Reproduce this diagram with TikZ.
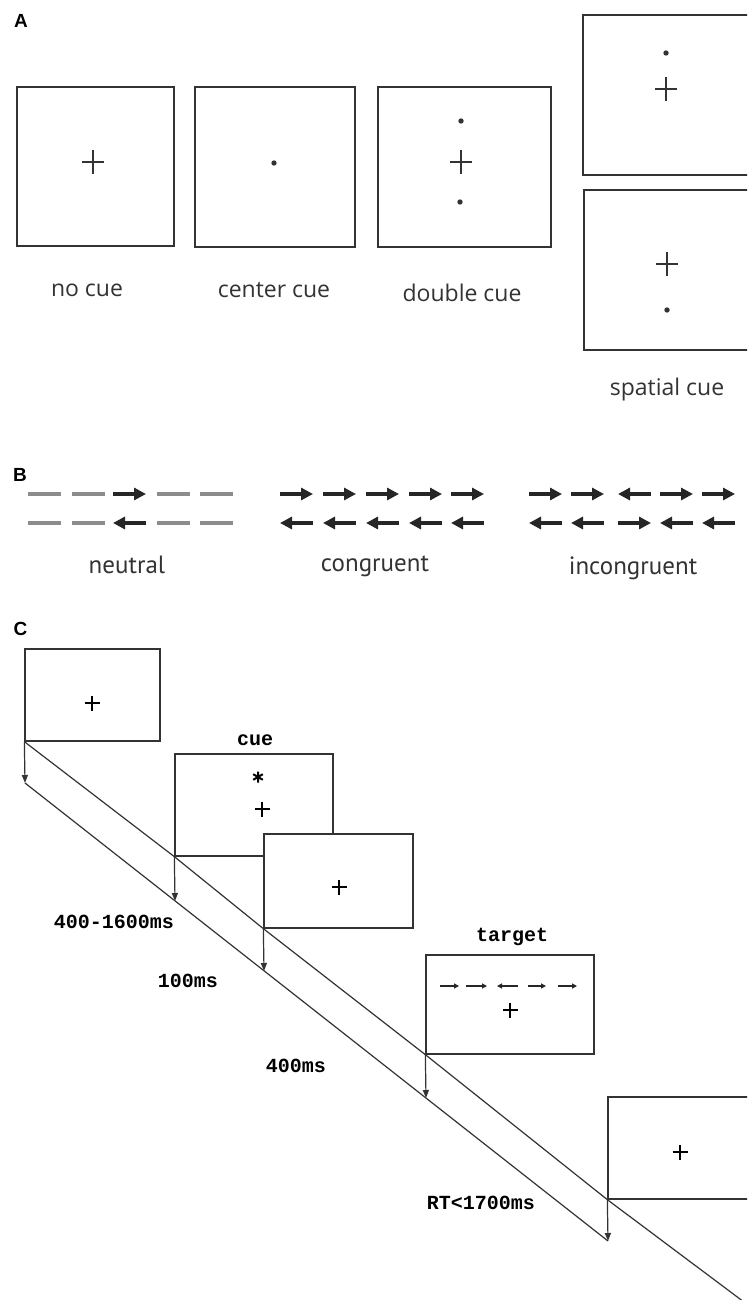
\documentclass[tikz,border=0pt]{standalone}
\usepackage{fontspec}
\setmainfont{Open Sans}
\newfontfamily\condfont{PT Sans}
\newfontfamily\panelfont{Liberation Sans}
\newfontfamily\songfont{Liberation Mono}
\usetikzlibrary{arrows.meta}
\definecolor{ink}{HTML}{333333}
\definecolor{txt}{HTML}{333333}
\definecolor{dashgray}{HTML}{8C8C8C}
\tikzset{
  panel/.style={font=\panelfont\bfseries\fontsize{19}{19}\selectfont, inner sep=0pt},
  screenA/.style={draw=ink, line width=1.6pt, inner sep=0pt, fill=white},
  screenC/.style={draw=ink, line width=1.3pt, inner sep=0pt, fill=white},
  capA/.style={font=\fontsize{23}{23}\selectfont, text=txt, inner sep=0pt},
  capB/.style={font=\condfont\fontsize{25}{25}\selectfont, text=txt, inner sep=0pt},
  capC/.style={font=\songfont\bfseries\fontsize{20}{20}\selectfont, text=black, inner sep=0pt},
  flank/.style={line width=3.2pt, black!85, -{Triangle[length=12pt,width=12pt]}},
  dashbar/.style={line width=3.2pt, dashgray},
  tline/.style={draw=ink, line width=1.2pt},
  tarr/.style={draw=ink, line width=1.2pt, -{Triangle[length=8pt,width=6pt]}},
  smallarr/.style={line width=1.3pt, black!85, -{Triangle[length=5pt,width=5pt]}},
  plusA/.pic={\draw[ink, line width=1.4pt] (-11,0)--(11,0) (0,-12)--(0,12);},
  plusC/.pic={\draw[black, line width=2.2pt] (-7.5,0)--(7.5,0) (0,-7.5)--(0,7.5);},
  dotA/.pic={\fill[ink] (0,0) circle (2.7pt);},
  starC/.pic={\draw[black, line width=2pt] (0,-5.5)--(0,5.5) (-4.8,-2.8)--(4.8,2.8) (-4.8,2.8)--(4.8,-2.8);}
}
\begin{document}
\begin{tikzpicture}[x=1pt,y=-1pt]
\clip (0,0) rectangle (747,1300);
\fill[white] (0,0) rectangle (747,1300);

% ---------- Panel A ----------
\node[panel] (la) at (21,21) {A};
\node[screenA, minimum width=157pt, minimum height=159pt] (a1) at (95.5,166.5) {};
\node[screenA, minimum width=160pt, minimum height=160pt] (a2) at (275,167) {};
\node[screenA, minimum width=173pt, minimum height=160pt] (a3) at (464.5,167) {};
\node[screenA, minimum width=190pt, minimum height=160pt] (s1) at (678,95) {};
\node[screenA, minimum width=190pt, minimum height=160pt] (s2) at (679,270) {};
\pic at (93,162) {plusA};
\pic at (274,163) {dotA};
\pic at (461,121) {dotA};
\pic at (461,162) {plusA};
\pic at (460,202) {dotA};
\pic at (666,53) {dotA};
\pic at (666,89) {plusA};
\pic at (667,264) {plusA};
\pic at (667,310) {dotA};
\node[capA] (t1) at (87,290) {no cue};
\node[capA] (t2) at (274,290) {center cue};
\node[capA] (t3) at (462,293) {double cue};
\node[capA] (t4) at (667,390) {spatial cue};

% ---------- Panel B ----------
\node[panel] (lb) at (20,475) {B};
% neutral
\foreach \x in {28,72,157,200}{
  \draw[dashbar] (\x,494) -- ++(33,0);
  \draw[dashbar] (\x,523) -- ++(33,0);
}
\draw[flank] (113,494) -- ++(33,0);
\draw[flank] (146,523) -- ++(-33,0);
% congruent
\foreach \x in {280,323,366,409,451}{
  \draw[flank] (\x,494) -- ++(33,0);
  \draw[flank] (\x+33,523) -- ++(-33,0);
}
% incongruent
\foreach \x in {529,571,660,702}{
  \draw[flank] (\x,494) -- ++(33,0);
  \draw[flank] (\x+33,523) -- ++(-33,0);
}
\draw[flank] (651,494) -- ++(-33,0);
\draw[flank] (618,523) -- ++(33,0);
\node[capB] (n1) at (127,565) {neutral};
\node[capB] (n2) at (375,566) {congruent};
\node[capB] (n3) at (633,568) {incongruent};

% ---------- Panel C ----------
\node[panel] (lc) at (20.5,629) {C};
\node[screenC, minimum width=135pt, minimum height=92pt] (c1) at (92.5,695) {};
\node[screenC, minimum width=158pt, minimum height=102pt] (c2) at (254,805) {};
\node[screenC, minimum width=149pt, minimum height=94pt] (c3) at (338.5,881) {};
\node[screenC, minimum width=168pt, minimum height=99pt] (c4) at (510,1004.5) {};
\node[screenC, minimum width=170pt, minimum height=102pt] (c5) at (693,1148) {};
\pic at (92,703) {plusC};
\pic at (258,777) {starC};
\pic at (262,809) {plusC};
\pic at (339,887) {plusC};
\pic at (510,1010) {plusC};
\pic at (680,1152) {plusC};
\draw[smallarr] (440,986) -- (459,986);
\draw[smallarr] (466,986) -- (487,986);
\draw[smallarr] (518,986) -- (497,986);
\draw[smallarr] (528,986) -- (546,986);
\draw[smallarr] (558,986) -- (577,986);
\node[capC] (cue) at (255,740) {cue};
\node[capC] (tgt) at (512,937) {target};

\coordinate (l1) at (25,783);
\coordinate (l2) at (175,901);
\coordinate (l3) at (264,971);
\coordinate (l4) at (426,1098);
\coordinate (l5) at (608,1241);
\coordinate (uend) at (752,1308);
\draw[tline] (c1.south west) -- (c2.south west) -- (c3.south west) -- (c4.south west) -- (c5.south west) -- (uend);
\draw[tline] (l1) -- (l5);
\draw[tarr] (c1.south west) -- (l1);
\draw[tarr] (c2.south west) -- (l2);
\draw[tarr] (c3.south west) -- (l3);
\draw[tarr] (c4.south west) -- (l4);
\draw[tarr] (c5.south west) -- (l5);
\node[capC] (d1) at (114,922) {400-1600ms};
\node[capC] (d2) at (188,981) {100ms};
\node[capC] (d3) at (296,1066) {400ms};
\node[capC] (d4) at (481,1203) {RT<1700ms};
\end{tikzpicture}
\end{document}
